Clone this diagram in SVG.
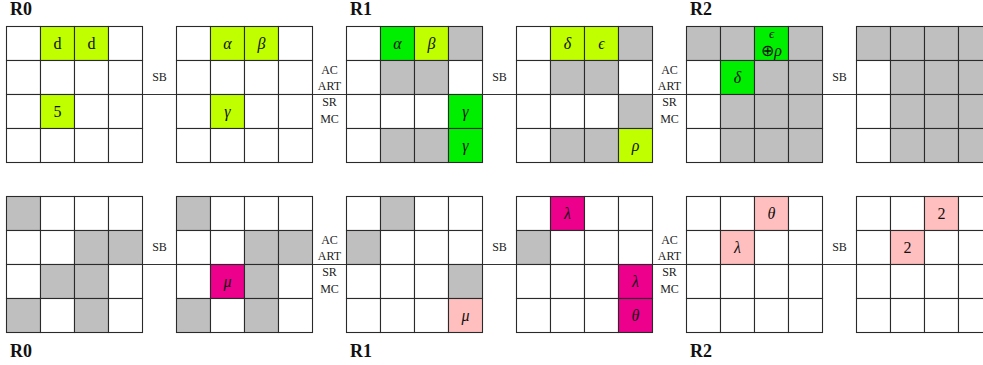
<svg xmlns="http://www.w3.org/2000/svg" width="983" height="365" viewBox="0 0 983 365">
<style>
.c{stroke:#2a2a2a;stroke-width:1.1;fill:#fff}
.g{fill:#bfbfbf}
.l{fill:#bfff00}
.n{fill:#00ee00}
.m{fill:#ec008c}
.p{fill:#ffbfbf}
.t{font-family:'Liberation Serif',serif;font-size:16px;text-anchor:middle;fill:#111}
.i{font-style:italic}
.s{font-family:'Liberation Serif',serif;font-size:12px;text-anchor:middle;fill:#222}
.h{font-family:'Liberation Serif',serif;font-size:18px;font-weight:bold;fill:#111}
.ln{stroke:#333;stroke-width:1.1;fill:none}
</style>
<rect width="983" height="365" fill="#fff"/>
<g id="titles">
<text class="h" x="10" y="15">R0</text>
<text class="h" x="350" y="15">R1</text>
<text class="h" x="690" y="15">R2</text>
<text class="h" x="10" y="357">R0</text>
<text class="h" x="350" y="357">R1</text>
<text class="h" x="690" y="357">R2</text>
</g>
<g id="connectors">
<line class="ln" x1="142.5" y1="94.5" x2="176.5" y2="94.5"/>
<line class="ln" x1="312.5" y1="94.5" x2="346.5" y2="94.5"/>
<line class="ln" x1="482.5" y1="94.5" x2="516.5" y2="94.5"/>
<line class="ln" x1="652.5" y1="94.5" x2="686.5" y2="94.5"/>
<line class="ln" x1="822.5" y1="94.5" x2="856.5" y2="94.5"/>
<line class="ln" x1="142.5" y1="264.5" x2="176.5" y2="264.5"/>
<line class="ln" x1="312.5" y1="264.5" x2="346.5" y2="264.5"/>
<line class="ln" x1="482.5" y1="264.5" x2="516.5" y2="264.5"/>
<line class="ln" x1="652.5" y1="264.5" x2="686.5" y2="264.5"/>
<line class="ln" x1="822.5" y1="264.5" x2="856.5" y2="264.5"/>
<text class="s" x="159.5" y="81">SB</text>
<text class="s" x="499.5" y="81">SB</text>
<text class="s" x="839.5" y="81">SB</text>
<text class="s" x="159.5" y="251">SB</text>
<text class="s" x="499.5" y="251">SB</text>
<text class="s" x="839.5" y="251">SB</text>
<text class="s" x="329.5" y="74">AC</text><text class="s" x="329.5" y="90">ART</text><text class="s" x="329.5" y="106">SR</text><text class="s" x="329.5" y="123">MC</text>
<text class="s" x="669.5" y="74">AC</text><text class="s" x="669.5" y="90">ART</text><text class="s" x="669.5" y="106">SR</text><text class="s" x="669.5" y="123">MC</text>
<text class="s" x="329.5" y="244">AC</text><text class="s" x="329.5" y="260">ART</text><text class="s" x="329.5" y="276">SR</text><text class="s" x="329.5" y="293">MC</text>
<text class="s" x="669.5" y="244">AC</text><text class="s" x="669.5" y="260">ART</text><text class="s" x="669.5" y="276">SR</text><text class="s" x="669.5" y="293">MC</text>
</g>
<!-- top row -->
<g id="t1" transform="translate(6.5,26.5)">
<rect class="c" x="0" y="0" width="34" height="34"/><rect class="c l" x="34" y="0" width="34" height="34"/><rect class="c l" x="68" y="0" width="34" height="34"/><rect class="c" x="102" y="0" width="34" height="34"/>
<rect class="c" x="0" y="34" width="34" height="34"/><rect class="c" x="34" y="34" width="34" height="34"/><rect class="c" x="68" y="34" width="34" height="34"/><rect class="c" x="102" y="34" width="34" height="34"/>
<rect class="c" x="0" y="68" width="34" height="34"/><rect class="c l" x="34" y="68" width="34" height="34"/><rect class="c" x="68" y="68" width="34" height="34"/><rect class="c" x="102" y="68" width="34" height="34"/>
<rect class="c" x="0" y="102" width="34" height="34"/><rect class="c" x="34" y="102" width="34" height="34"/><rect class="c" x="68" y="102" width="34" height="34"/><rect class="c" x="102" y="102" width="34" height="34"/>
<text class="t" x="51" y="22">d</text><text class="t" x="85" y="22">d</text><text class="t" x="51" y="90">5</text>
</g>
<g id="t2" transform="translate(176.5,26.5)">
<rect class="c" x="0" y="0" width="34" height="34"/><rect class="c l" x="34" y="0" width="34" height="34"/><rect class="c l" x="68" y="0" width="34" height="34"/><rect class="c" x="102" y="0" width="34" height="34"/>
<rect class="c" x="0" y="34" width="34" height="34"/><rect class="c" x="34" y="34" width="34" height="34"/><rect class="c" x="68" y="34" width="34" height="34"/><rect class="c" x="102" y="34" width="34" height="34"/>
<rect class="c" x="0" y="68" width="34" height="34"/><rect class="c l" x="34" y="68" width="34" height="34"/><rect class="c" x="68" y="68" width="34" height="34"/><rect class="c" x="102" y="68" width="34" height="34"/>
<rect class="c" x="0" y="102" width="34" height="34"/><rect class="c" x="34" y="102" width="34" height="34"/><rect class="c" x="68" y="102" width="34" height="34"/><rect class="c" x="102" y="102" width="34" height="34"/>
<text class="t i" x="51" y="22">α</text><text class="t i" x="85" y="22">β</text><text class="t i" x="51" y="90">γ</text>
</g>
<g id="t3" transform="translate(346.5,26.5)">
<rect class="c" x="0" y="0" width="34" height="34"/><rect class="c n" x="34" y="0" width="34" height="34"/><rect class="c l" x="68" y="0" width="34" height="34"/><rect class="c g" x="102" y="0" width="34" height="34"/>
<rect class="c" x="0" y="34" width="34" height="34"/><rect class="c g" x="34" y="34" width="34" height="34"/><rect class="c g" x="68" y="34" width="34" height="34"/><rect class="c" x="102" y="34" width="34" height="34"/>
<rect class="c" x="0" y="68" width="34" height="34"/><rect class="c" x="34" y="68" width="34" height="34"/><rect class="c" x="68" y="68" width="34" height="34"/><rect class="c n" x="102" y="68" width="34" height="34"/>
<rect class="c" x="0" y="102" width="34" height="34"/><rect class="c g" x="34" y="102" width="34" height="34"/><rect class="c g" x="68" y="102" width="34" height="34"/><rect class="c n" x="102" y="102" width="34" height="34"/>
<text class="t i" x="51" y="22">α</text><text class="t i" x="85" y="22">β</text><text class="t i" x="119" y="90">γ</text><text class="t i" x="119" y="124">γ</text>
</g>
<g id="t4" transform="translate(516.5,26.5)">
<rect class="c" x="0" y="0" width="34" height="34"/><rect class="c l" x="34" y="0" width="34" height="34"/><rect class="c l" x="68" y="0" width="34" height="34"/><rect class="c g" x="102" y="0" width="34" height="34"/>
<rect class="c" x="0" y="34" width="34" height="34"/><rect class="c g" x="34" y="34" width="34" height="34"/><rect class="c g" x="68" y="34" width="34" height="34"/><rect class="c" x="102" y="34" width="34" height="34"/>
<rect class="c" x="0" y="68" width="34" height="34"/><rect class="c" x="34" y="68" width="34" height="34"/><rect class="c" x="68" y="68" width="34" height="34"/><rect class="c g" x="102" y="68" width="34" height="34"/>
<rect class="c" x="0" y="102" width="34" height="34"/><rect class="c g" x="34" y="102" width="34" height="34"/><rect class="c g" x="68" y="102" width="34" height="34"/><rect class="c l" x="102" y="102" width="34" height="34"/>
<text class="t i" x="51" y="22">δ</text><text class="t i" x="85" y="22">ϵ</text><text class="t i" x="119" y="124">ρ</text>
</g>
<g id="t5" transform="translate(686.5,26.5)">
<rect class="c g" x="0" y="0" width="34" height="34"/><rect class="c g" x="34" y="0" width="34" height="34"/><rect class="c n" x="68" y="0" width="34" height="34"/><rect class="c g" x="102" y="0" width="34" height="34"/>
<rect class="c" x="0" y="34" width="34" height="34"/><rect class="c n" x="34" y="34" width="34" height="34"/><rect class="c g" x="68" y="34" width="34" height="34"/><rect class="c g" x="102" y="34" width="34" height="34"/>
<rect class="c" x="0" y="68" width="34" height="34"/><rect class="c g" x="34" y="68" width="34" height="34"/><rect class="c g" x="68" y="68" width="34" height="34"/><rect class="c g" x="102" y="68" width="34" height="34"/>
<rect class="c" x="0" y="102" width="34" height="34"/><rect class="c g" x="34" y="102" width="34" height="34"/><rect class="c g" x="68" y="102" width="34" height="34"/><rect class="c g" x="102" y="102" width="34" height="34"/>
<text class="t i" x="85" y="11" style="font-size:13px">ϵ</text><text class="t" x="85" y="29"><tspan>⊕</tspan><tspan class="i">ρ</tspan></text><text class="t i" x="51" y="56">δ</text>
</g>
<g id="t6" transform="translate(856.5,26.5)">
<rect class="c g" x="0" y="0" width="34" height="34"/><rect class="c g" x="34" y="0" width="34" height="34"/><rect class="c g" x="68" y="0" width="34" height="34"/><rect class="c g" x="102" y="0" width="34" height="34"/>
<rect class="c" x="0" y="34" width="34" height="34"/><rect class="c g" x="34" y="34" width="34" height="34"/><rect class="c g" x="68" y="34" width="34" height="34"/><rect class="c g" x="102" y="34" width="34" height="34"/>
<rect class="c" x="0" y="68" width="34" height="34"/><rect class="c g" x="34" y="68" width="34" height="34"/><rect class="c g" x="68" y="68" width="34" height="34"/><rect class="c g" x="102" y="68" width="34" height="34"/>
<rect class="c" x="0" y="102" width="34" height="34"/><rect class="c g" x="34" y="102" width="34" height="34"/><rect class="c g" x="68" y="102" width="34" height="34"/><rect class="c g" x="102" y="102" width="34" height="34"/>
</g>
<!-- bottom row -->
<g id="b1" transform="translate(6.5,196.5)">
<rect class="c g" x="0" y="0" width="34" height="34"/><rect class="c" x="34" y="0" width="34" height="34"/><rect class="c" x="68" y="0" width="34" height="34"/><rect class="c" x="102" y="0" width="34" height="34"/>
<rect class="c" x="0" y="34" width="34" height="34"/><rect class="c" x="34" y="34" width="34" height="34"/><rect class="c g" x="68" y="34" width="34" height="34"/><rect class="c g" x="102" y="34" width="34" height="34"/>
<rect class="c" x="0" y="68" width="34" height="34"/><rect class="c g" x="34" y="68" width="34" height="34"/><rect class="c g" x="68" y="68" width="34" height="34"/><rect class="c" x="102" y="68" width="34" height="34"/>
<rect class="c g" x="0" y="102" width="34" height="34"/><rect class="c" x="34" y="102" width="34" height="34"/><rect class="c g" x="68" y="102" width="34" height="34"/><rect class="c" x="102" y="102" width="34" height="34"/>
</g>
<g id="b2" transform="translate(176.5,196.5)">
<rect class="c g" x="0" y="0" width="34" height="34"/><rect class="c" x="34" y="0" width="34" height="34"/><rect class="c" x="68" y="0" width="34" height="34"/><rect class="c" x="102" y="0" width="34" height="34"/>
<rect class="c" x="0" y="34" width="34" height="34"/><rect class="c" x="34" y="34" width="34" height="34"/><rect class="c g" x="68" y="34" width="34" height="34"/><rect class="c g" x="102" y="34" width="34" height="34"/>
<rect class="c" x="0" y="68" width="34" height="34"/><rect class="c m" x="34" y="68" width="34" height="34"/><rect class="c g" x="68" y="68" width="34" height="34"/><rect class="c" x="102" y="68" width="34" height="34"/>
<rect class="c g" x="0" y="102" width="34" height="34"/><rect class="c" x="34" y="102" width="34" height="34"/><rect class="c g" x="68" y="102" width="34" height="34"/><rect class="c" x="102" y="102" width="34" height="34"/>
<text class="t i" x="51" y="90">μ</text>
</g>
<g id="b3" transform="translate(346.5,196.5)">
<rect class="c" x="0" y="0" width="34" height="34"/><rect class="c g" x="34" y="0" width="34" height="34"/><rect class="c" x="68" y="0" width="34" height="34"/><rect class="c" x="102" y="0" width="34" height="34"/>
<rect class="c g" x="0" y="34" width="34" height="34"/><rect class="c" x="34" y="34" width="34" height="34"/><rect class="c" x="68" y="34" width="34" height="34"/><rect class="c" x="102" y="34" width="34" height="34"/>
<rect class="c" x="0" y="68" width="34" height="34"/><rect class="c" x="34" y="68" width="34" height="34"/><rect class="c" x="68" y="68" width="34" height="34"/><rect class="c g" x="102" y="68" width="34" height="34"/>
<rect class="c" x="0" y="102" width="34" height="34"/><rect class="c" x="34" y="102" width="34" height="34"/><rect class="c" x="68" y="102" width="34" height="34"/><rect class="c p" x="102" y="102" width="34" height="34"/>
<text class="t i" x="119" y="124">μ</text>
</g>
<g id="b4" transform="translate(516.5,196.5)">
<rect class="c" x="0" y="0" width="34" height="34"/><rect class="c m" x="34" y="0" width="34" height="34"/><rect class="c" x="68" y="0" width="34" height="34"/><rect class="c" x="102" y="0" width="34" height="34"/>
<rect class="c g" x="0" y="34" width="34" height="34"/><rect class="c" x="34" y="34" width="34" height="34"/><rect class="c" x="68" y="34" width="34" height="34"/><rect class="c" x="102" y="34" width="34" height="34"/>
<rect class="c" x="0" y="68" width="34" height="34"/><rect class="c" x="34" y="68" width="34" height="34"/><rect class="c" x="68" y="68" width="34" height="34"/><rect class="c m" x="102" y="68" width="34" height="34"/>
<rect class="c" x="0" y="102" width="34" height="34"/><rect class="c" x="34" y="102" width="34" height="34"/><rect class="c" x="68" y="102" width="34" height="34"/><rect class="c m" x="102" y="102" width="34" height="34"/>
<text class="t i" x="51" y="22">λ</text><text class="t i" x="119" y="90">λ</text><text class="t i" x="119" y="124">θ</text>
</g>
<g id="b5" transform="translate(686.5,196.5)">
<rect class="c" x="0" y="0" width="34" height="34"/><rect class="c" x="34" y="0" width="34" height="34"/><rect class="c p" x="68" y="0" width="34" height="34"/><rect class="c" x="102" y="0" width="34" height="34"/>
<rect class="c" x="0" y="34" width="34" height="34"/><rect class="c p" x="34" y="34" width="34" height="34"/><rect class="c" x="68" y="34" width="34" height="34"/><rect class="c" x="102" y="34" width="34" height="34"/>
<rect class="c" x="0" y="68" width="34" height="34"/><rect class="c" x="34" y="68" width="34" height="34"/><rect class="c" x="68" y="68" width="34" height="34"/><rect class="c" x="102" y="68" width="34" height="34"/>
<rect class="c" x="0" y="102" width="34" height="34"/><rect class="c" x="34" y="102" width="34" height="34"/><rect class="c" x="68" y="102" width="34" height="34"/><rect class="c" x="102" y="102" width="34" height="34"/>
<text class="t i" x="85" y="22">θ</text><text class="t i" x="51" y="56">λ</text>
</g>
<g id="b6" transform="translate(856.5,196.5)">
<rect class="c" x="0" y="0" width="34" height="34"/><rect class="c" x="34" y="0" width="34" height="34"/><rect class="c p" x="68" y="0" width="34" height="34"/><rect class="c" x="102" y="0" width="34" height="34"/>
<rect class="c" x="0" y="34" width="34" height="34"/><rect class="c p" x="34" y="34" width="34" height="34"/><rect class="c" x="68" y="34" width="34" height="34"/><rect class="c" x="102" y="34" width="34" height="34"/>
<rect class="c" x="0" y="68" width="34" height="34"/><rect class="c" x="34" y="68" width="34" height="34"/><rect class="c" x="68" y="68" width="34" height="34"/><rect class="c" x="102" y="68" width="34" height="34"/>
<rect class="c" x="0" y="102" width="34" height="34"/><rect class="c" x="34" y="102" width="34" height="34"/><rect class="c" x="68" y="102" width="34" height="34"/><rect class="c" x="102" y="102" width="34" height="34"/>
<text class="t" x="85" y="22">2</text><text class="t" x="51" y="56">2</text>
</g>
</svg>
